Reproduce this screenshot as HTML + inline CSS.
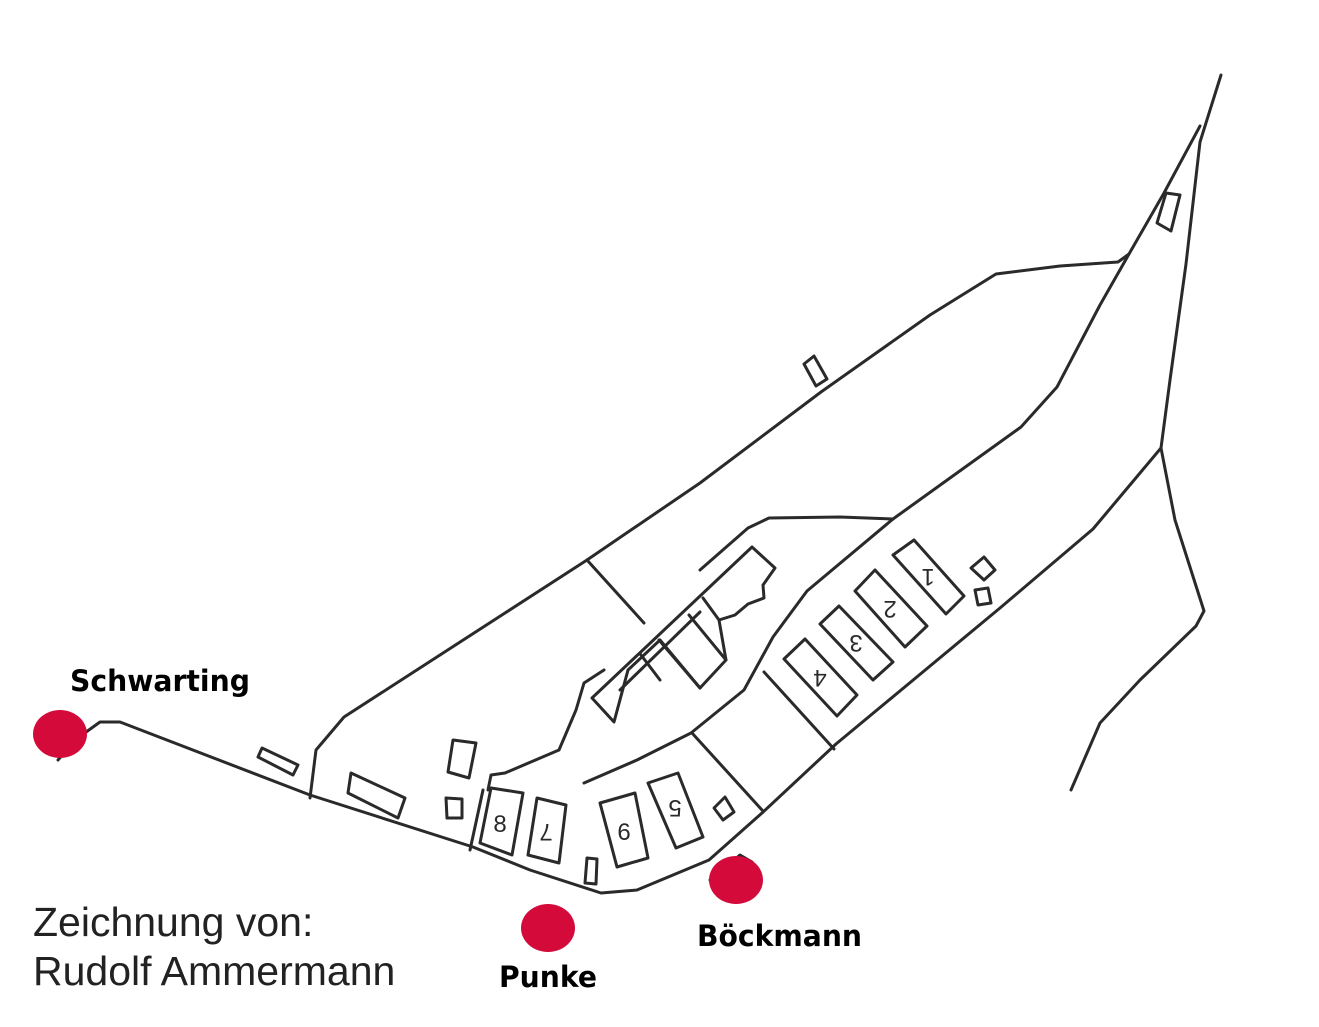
<!DOCTYPE html>
<html><head><meta charset="utf-8"><style>
html,body{margin:0;padding:0;background:#fff;width:1319px;height:1027px;overflow:hidden}
svg{display:block}
</style></head><body>
<svg width="1319" height="1027" viewBox="0 0 1319 1027" xmlns="http://www.w3.org/2000/svg">
<g fill="none" stroke="#2a2a2a" stroke-width="3" stroke-linejoin="round" stroke-linecap="round">
<path d="M58,760 L75,740 L100,722 L120,722 L310,795 L473,847 L530,870 L601,893 L637,890 L709,860 L762,813 L836,744 L1000,608 L1093,529 L1161,448 L1170,380 L1186,264 L1200,142 L1221,75"/>
<path d="M1161,448 L1175,520 L1204,611 L1196,626 L1140,680 L1100,723 L1071,790"/>
<path d="M310,798 L316,750 L344,717 L505,613 L587,560 L700,483 L821,392 L930,315 L996,274 L1060,266 L1118,262 L1129,254 L1164,193 L1200,126"/>
<path d="M1129,254 L1100,305 L1057,387 L1021,427 L950,478 L893,519 L807,591 L773,637 L744,690 L691,733 L637,760 L584,783"/>
<path d="M893,519 L840,517 L769,518 L748,528 L700,570"/>
<path d="M488,790 L491,775 L505,773 L559,750 L576,710 L584,683 L604,670"/>
<path d="M470,850 L483,790"/>
<path d="M587,560 L644,623"/>
<path d="M692,733 L762,810"/>
<path d="M764,672 L834,749"/>
<path d="M592,698 L752,547 L775,568 L763,585 L764,598 L748,604 L735,615 L719,620 L726,660 L700,688 L660,640 L628,670 L614,722 Z"/>
<path d="M641,655 L660,680"/>
<path d="M659,640 L700,688"/>
<path d="M689,615 L726,660"/>
<path d="M703,598 L719,620"/>
<path d="M620,690 L700,612"/>
<path d="M491,788 L523,793 L512,855 L480,843 Z"/>
<path d="M537,798 L566,805 L559,863 L528,855 Z"/>
<path d="M600,803 L635,793 L648,858 L617,867 Z"/>
<path d="M648,783 L678,773 L703,837 L676,848 Z"/>
<path d="M893,555 L914,540 L964,596 L946,614 Z"/>
<path d="M855,591 L875,570 L927,626 L905,647 Z"/>
<path d="M820,624 L839,606 L893,662 L873,680 Z"/>
<path d="M784,659 L805,639 L857,695 L837,716 Z"/>
<path d="M453,740 L476,743 L469,778 L448,772 Z"/>
<path d="M446,798 L462,799 L462,818 L447,818 Z"/>
<path d="M714,808 L725,797 L734,812 L723,820 Z"/>
<path d="M587,858 L597,859 L596,884 L585,883 Z"/>
<path d="M351,773 L405,798 L398,818 L348,793 Z"/>
<path d="M262,748 L298,765 L293,775 L258,757 Z"/>
<path d="M971,568 L984,557 L995,570 L984,580 Z"/>
<path d="M975,590 L988,588 L991,603 L978,605 Z"/>
<path d="M804,364 L814,356 L827,379 L816,386 Z"/>
<path d="M1166,193 L1180,195 L1171,231 L1157,223 Z"/>
<path d="M710,880 L740,855 L752,862"/>
</g>
<g font-family="Liberation Sans, sans-serif" font-size="24" fill="#2a2a2a" text-anchor="middle">
<text x="500" y="832">8</text>
<text x="546" y="840" transform="rotate(180 546 832)">7</text>
<text x="624" y="840">6</text>
<text x="675" y="816" transform="rotate(180 675 808)">5</text>
<text x="928" y="585" transform="rotate(180 928 577)">1</text>
<text x="890" y="617" transform="rotate(180 890 609)">2</text>
<text x="856" y="651" transform="rotate(180 856 643)">3</text>
<text x="820" y="686" transform="rotate(180 820 678)">4</text>
</g>
<g fill="#d40a3a">
<ellipse cx="60" cy="734" rx="27" ry="24"/>
<ellipse cx="548" cy="928" rx="27" ry="24"/>
<ellipse cx="736" cy="880" rx="27" ry="24"/>
</g>
<g font-family="DejaVu Sans, Liberation Sans, sans-serif" font-weight="bold" font-size="29" fill="#000">
<text x="70" y="691" textLength="180" lengthAdjust="spacingAndGlyphs">Schwarting</text>
<text x="499" y="987" textLength="98" lengthAdjust="spacingAndGlyphs">Punke</text>
<text x="697" y="946" textLength="165" lengthAdjust="spacingAndGlyphs">Böckmann</text>
</g>
<g font-family="Liberation Sans, sans-serif" font-size="41" fill="#222">
<text x="33" y="936">Zeichnung von:</text>
<text x="33" y="985">Rudolf Ammermann</text>
</g>
</svg>
</body></html>
